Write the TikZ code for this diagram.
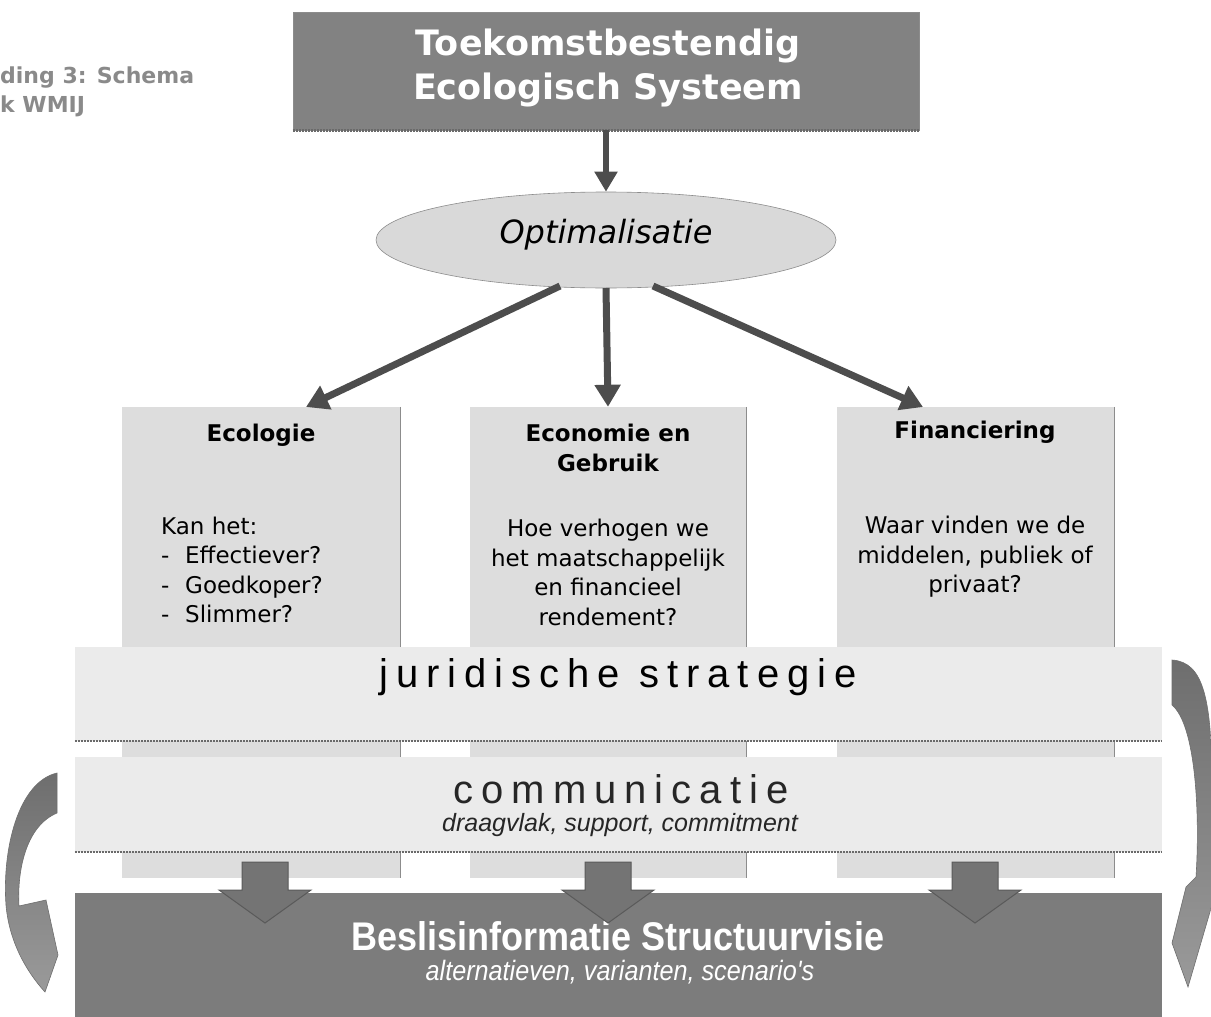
\documentclass[tikz,border=0pt]{standalone}
\usepackage{fontspec}
\setmainfont{DejaVu Sans}
\newfontfamily\arialf{Liberation Sans}
\newfontfamily\spacedf[LetterSpace=20]{Liberation Sans}
\usetikzlibrary{arrows.meta,shapes.geometric}
\definecolor{topgray}{HTML}{828282}
\definecolor{ellgray}{HTML}{D9D9D9}
\definecolor{colgray}{HTML}{DDDDDD}
\definecolor{bandgray}{HTML}{EBEBEB}
\definecolor{darkbox}{HTML}{7C7C7C}
\definecolor{arrowgray}{HTML}{4D4D4D}
\definecolor{blockgray}{HTML}{747474}
\definecolor{blockedge}{HTML}{5A5A5A}
\definecolor{curvetop}{HTML}{6E6E6E}
\definecolor{curvebot}{HTML}{9A9A9A}
\definecolor{titlegray}{HTML}{8A8A8A}
\definecolor{edgegray}{HTML}{8C8C8C}
\definecolor{dotgray}{HTML}{6A6A6A}
\tikzset{
  topbox/.style={rectangle, fill=topgray, draw=edgegray, line width=0.6pt, inner sep=0pt},
  ellbox/.style={ellipse, fill=ellgray, draw=edgegray, line width=0.6pt, inner sep=0pt},
  colbox/.style={rectangle, fill=colgray, inner sep=0pt},
  coledge/.style={draw=edgegray, line width=1pt},
  bandbox/.style={rectangle, fill=bandgray, inner sep=0pt},
  bandline/.style={draw=dotgray, line width=2.5pt, dash pattern=on 2pt off 1pt},
  darkbox/.style={rectangle, fill=darkbox, inner sep=0pt},
  conn/.style={draw=arrowgray, line width=7pt, -{Triangle[width=25pt,length=22pt]}},
  connsmall/.style={draw=arrowgray, line width=6pt, -{Triangle[width=22pt,length=20pt]}},
  coltitle/.style={font=\bfseries\fontsize{23}{29.5}\selectfont, align=center, text=black, inner sep=0pt},
  coltext/.style={font=\fontsize{23}{29.5}\selectfont, align=center, text=black, inner sep=0pt},
  headtext/.style={font=\bfseries\fontsize{22}{28}\selectfont, text=titlegray, inner sep=0pt, anchor=west},
  curved/.style={top color=curvetop, bottom color=curvebot, draw=curvetop, line width=0.6pt},
  blockarrow/.pic={
    \path[fill=blockgray, draw=blockedge, line width=1pt]
      (-23,0) -- (23,0) -- (23,28) -- (46,28) -- (0,61) -- (-46,28) -- (-23,28) -- cycle;
  }
}
\begin{document}
\begin{tikzpicture}[x=1pt,y=-1pt]
\useasboundingbox (0,0) rectangle (1211,1017);
\fill[white] (0,0) rectangle (1211,1017);

% caption fragment
\node[headtext] (cap1) at (0,78) {ding 3: Schema};
\node[headtext] (cap2) at (0,106) {k WMIJ};

% top box
\node[topbox, minimum width=626pt, minimum height=118pt] (top) at (606,71) {};
\node[font=\bfseries\fontsize{35}{44}\selectfont, text=white, align=center, inner sep=0pt] (toptext) at (608,68)
  {Toekomstbestendig\\Ecologisch Systeem};
\draw[bandline] (top.south west) -- (top.south east);

% ellipse
\node[ellbox, minimum width=460pt, minimum height=96pt] (opt) at (606,240) {};
\node[font=\itshape\fontsize{32}{38}\selectfont, text=black, inner sep=0pt] (optlabel) at (606,235) {Optimalisatie};

% columns
\node[colbox, minimum width=278pt, minimum height=471pt] (eco) at (261,642.5) {};
\node[colbox, minimum width=276pt, minimum height=471pt] (econ) at (608,642.5) {};
\node[colbox, minimum width=277pt, minimum height=471pt] (fin) at (975.5,642.5) {};
\draw[coledge] (eco.north east) -- (eco.south east);
\draw[coledge] (econ.north east) -- (econ.south east);
\draw[coledge] (fin.north east) -- (fin.south east);

\node[coltitle] (ecot) at (261,435) {Ecologie};
\node[coltitle] (econt) at (608,448) {Economie en\\Gebruik};
\node[coltitle] (fint) at (975,432) {Financiering};

\node[coltext, align=left, anchor=west] (ecob) at (161,570)
  {Kan het:\\\makebox[24pt][l]{-}Effectiever?\\\makebox[24pt][l]{-}Goedkoper?\\\makebox[24pt][l]{-}Slimmer?};
\node[coltext] (econb) at (608,572.5)
  {Hoe verhogen we\\het maatschappelijk\\en financieel\\rendement?};
\node[coltext] (finb) at (975,557)
  {Waar vinden we de\\middelen, publiek of\\privaat?};

% arrows
\coordinate (oL) at (560,286);
\coordinate (oM) at (606,288);
\coordinate (oR) at (653,286);
\coordinate (ecotip) at (306,407);
\coordinate (fintip) at (923,407);
\draw[connsmall] (top.south) -- (opt.north);
\draw[conn] (oL) -- (ecotip);
\draw[conn] (oM) -- (econ.north);
\draw[conn] (oR) -- (fintip);

% bands
\node[bandbox, minimum width=1087pt, minimum height=94pt] (jur) at (618.5,694) {};
\draw[bandline] (jur.south west) -- (jur.south east);
\node[font=\spacedf\fontsize{40}{48}\selectfont, text=black, inner sep=0pt] (jurt) at (618,677) {juridische strategie};

\node[bandbox, minimum width=1087pt, minimum height=95pt] (com) at (618.5,804.5) {};
\draw[bandline] (com.south west) -- (com.south east);
\node[font=\spacedf\fontsize{40}{48}\selectfont, text=black!85, inner sep=0pt] (comt) at (621,789) {communicatie};
\node[font=\arialf\itshape\fontsize{25}{30}\selectfont, text=black!85, inner sep=0pt] (coms) at (620,825) {draagvlak, support, commitment};

% bottom box
\node[darkbox, minimum width=1087pt, minimum height=124pt] (besl) at (618.5,955) {};
\node[text=white, inner sep=0pt] (beslt) at (618,936)
  {\scalebox{0.9}[1]{\arialf\bfseries\fontsize{40}{44}\selectfont Beslisinformatie Structuurvisie}};
\node[text=white, inner sep=0pt] (besls) at (620,972)
  {\scalebox{0.9}[1]{\arialf\itshape\fontsize{28}{32}\selectfont alternatieven, varianten, scenario's}};

% block arrows
\pic at (265,862) {blockarrow};
\pic at (608,862) {blockarrow};
\pic at (975,862) {blockarrow};

% curved arrows
\path[curved] (57,773) .. controls (18,782) and (2,850) .. (6,905)
  .. controls (9,940) and (25,970) .. (45,992) -- (58,955) -- (46,900) -- (19,906)
  .. controls (17,870) and (26,826) .. (57,813) -- cycle;
\path[curved] (1172,660) .. controls (1204,662) and (1212,700) .. (1212,790)
  -- (1212,905) -- (1188,987) -- (1172,943) -- (1186,887) -- (1196,877)
  .. controls (1200,815) and (1196,725) .. (1172,705) -- cycle;
\end{tikzpicture}
\end{document}
